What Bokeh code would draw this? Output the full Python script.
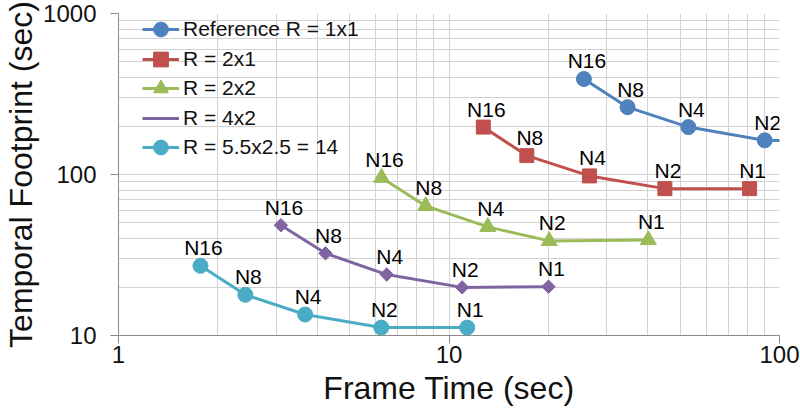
from bokeh.plotting import figure
from bokeh.models import Range1d, FixedTicker, NumeralTickFormatter, ColumnDataSource, Legend, LegendItem
from bokeh.core.properties import value
from bokeh.embed import file_html
from bokeh.resources import INLINE

# ---- data ----
SERIES = ["Reference R = 1x1", "R = 2x1", "R = 2x2", "R = 4x2", "R = 5.5x2.5 = 14"]
REF_X = [25.6, 34.7, 53.0, 90.2, 180.0]          # last point lies beyond the axis (line runs off the plot)
REF_Y = [392, 262, 197, 163, 160]
REF_LABELS = ["N16", "N8", "N4", "N2"]            # only visible points are labelled
R21_X = [12.7, 17.2, 26.6, 45.0, 81.2]
R21_Y = [197, 131, 98, 81.7, 81.7]
R22_X = [6.25, 8.5, 13.1, 20.1, 40.1]
R22_Y = [95.5, 63.8, 47.3, 38.7, 39.2]
R42_X = [3.10, 4.23, 6.48, 10.96, 20.0]
R42_Y = [48.4, 32.4, 23.9, 19.9, 20.1]
R14_X = [1.77, 2.42, 3.67, 6.24, 11.35]
R14_Y = [27.1, 17.9, 13.5, 11.2, 11.2]
NODE_LABELS = ["N16", "N8", "N4", "N2", "N1"]
X_TICKS = [1, 10, 100]
X_MINOR = [2, 3, 4, 5, 6, 7, 8, 9, 20, 30, 40, 50, 60, 70, 80, 90]
Y_TICKS = [10, 100, 1000]
Y_MINOR = [20, 30, 40, 50, 60, 70, 80, 90, 200, 300, 400, 500, 600, 700, 800, 900]

COLORS = ["#4F81BD", "#C0504D", "#9BBB59", "#8064A2", "#4BACC6"]
MARKERS = ["circle", "square", "triangle", "square", "circle"]
LEGEND_MARKERS = ["circle", "square", "triangle", "diamond", "circle"]
SIZES = [15, 14, 16, 9.5, 15]
ANGLES = [0, 0, 0, 0.7854, 0]

FONT = "Liberation Sans"

BORDER_BOTTOM = 79
p = figure(width=800, height=414, x_axis_type="log", y_axis_type="log",
           x_range=Range1d(1, 100), y_range=Range1d(10, 1000),
           output_backend="svg", toolbar_location=None,
           min_border_left=113, min_border_right=21, min_border_top=13, min_border_bottom=BORDER_BOTTOM)
p.outline_line_color = None
p.background_fill_color = "white"
p.border_fill_color = "white"

p.xaxis.ticker = FixedTicker(ticks=X_TICKS, minor_ticks=X_MINOR)
p.yaxis.ticker = FixedTicker(ticks=Y_TICKS, minor_ticks=Y_MINOR)
p.xaxis.formatter = NumeralTickFormatter(format="0")
p.yaxis.formatter = NumeralTickFormatter(format="0")

for ax in (p.xaxis, p.yaxis):
    ax.axis_line_color = "#8a8a8a"
    ax.axis_line_width = 1
    ax.major_tick_line_color = "#8a8a8a"
    ax.major_tick_out = 8
    ax.major_tick_in = 0
    ax.minor_tick_line_color = None
    ax.major_label_text_font = FONT
    ax.major_label_text_font_size = "24px"
    ax.major_label_text_color = "#111111"
    ax.axis_label_text_font = FONT
    ax.axis_label_text_font_size = "32px"
    ax.axis_label_text_font_style = "normal"
    ax.axis_label_text_color = "#111111"

p.xaxis.axis_label = "Frame Time (sec)"
p.yaxis.axis_label = "Temporal Footprint (sec)"
p.xaxis.major_label_standoff = 2
p.yaxis.major_label_standoff = 14
p.xaxis.axis_label_standoff = 4
p.yaxis.axis_label_standoff = 1

for g in (p.xgrid, p.ygrid):
    g.grid_line_color = "#d2d2d2"
    g.grid_line_width = 1
    g.minor_grid_line_color = "#d2d2d2"
    g.minor_grid_line_width = 1

all_x = [REF_X, R21_X, R22_X, R42_X, R14_X]
all_y = [REF_Y, R21_Y, R22_Y, R42_Y, R14_Y]
all_labels = [REF_LABELS, NODE_LABELS, NODE_LABELS, NODE_LABELS, NODE_LABELS]

items = []
for name, xs, ys, labs, color, marker, lmarker, size, angle in zip(
        SERIES, all_x, all_y, all_labels, COLORS, MARKERS, LEGEND_MARKERS, SIZES, ANGLES):
    src = ColumnDataSource(dict(x=xs, y=ys))
    lr = p.line("x", "y", source=src, line_color=color, line_width=3)
    sr = p.scatter("x", "y", source=src, marker=marker, size=size, angle=angle,
                   fill_color=color, line_color=color)
    n = len(labs)
    tsrc = ColumnDataSource(dict(x=xs[:n], y=ys[:n], lab=labs))
    p.text("x", "y", text="lab", source=tsrc, text_align="center", text_baseline="alphabetic",
           x_offset=3, y_offset=-18, text_font=value(FONT), text_font_size="21px", text_color="black")
    if lmarker != marker:
        # legend-only glyph (no data) so the legend shows a diamond
        lg = p.scatter(x=[], y=[], marker=lmarker, size=size, fill_color=color, line_color=color)
        items.append(LegendItem(label=name, renderers=[lr, lg]))
    else:
        items.append(LegendItem(label=name, renderers=[lr, sr]))

# one legend box per entry, so the legend markers can be as large as in the reference
GLYPH_H = 38
ROW_PITCH = 29.5
FIRST_ROW_FROM_TOP = 16          # first entry centre below the top of the plot frame
frame_h = 414 - 13 - BORDER_BOTTOM
for i, item in enumerate(items):
    centre = FIRST_ROW_FROM_TOP + ROW_PITCH * i
    vy = frame_h - centre - GLYPH_H / 2
    lg = Legend(items=[item], location=(24, vy), margin=0, padding=0, spacing=0,
                glyph_width=37, glyph_height=GLYPH_H, label_height=GLYPH_H, label_standoff=4,
                label_text_font=FONT, label_text_font_size="21px", label_text_color="#111111",
                background_fill_alpha=0, border_line_alpha=0)
    p.add_layout(lg)

open("out.html", "w").write(file_html(p, INLINE))
